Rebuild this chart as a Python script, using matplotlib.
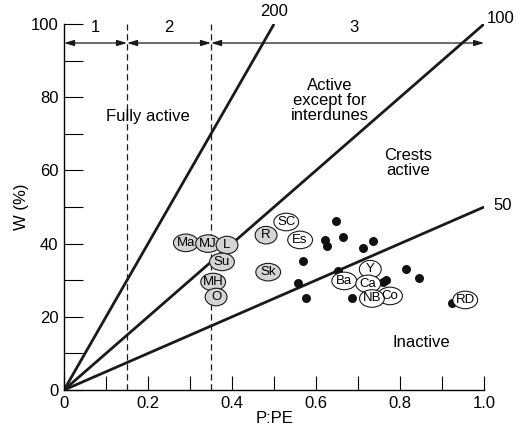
import matplotlib
matplotlib.use("Agg")
import matplotlib.pyplot as plt
from matplotlib.patches import Ellipse

plt.rcParams["font.family"] = ["Liberation Sans", "DejaVu Sans"]

# Reference lines W = k * P:PE
SLOPES = [200, 100, 50]

# Zone boundaries (P:PE)
BOUNDS = [0.0, 0.15, 0.35, 1.0]
ZONE_LABELS = ["1", "2", "3"]

# Labelled dune fields
SITE_NAMES = ["Ma", "MJ", "L", "Su", "MH", "O", "R", "Sk",
              "SC", "Es", "Y", "Ba", "Ca", "Co", "NB", "RD"]
SITE_X = [0.290, 0.343, 0.388, 0.376, 0.355, 0.362, 0.481, 0.486,
          0.529, 0.562, 0.729, 0.667, 0.724, 0.776, 0.733, 0.955]
SITE_W = [40.2, 40.0, 39.6, 35.0, 29.5, 25.4, 42.3, 32.2,
          45.9, 41.0, 33.0, 29.8, 29.0, 25.7, 25.0, 24.6]
SITE_ACTIVE = [True, True, True, True, True, True, True, True,
               False, False, False, False, False, False, False, False]

# Unlabelled sites
DOT_X = [0.648, 0.621, 0.626, 0.664, 0.712, 0.736, 0.569, 0.557,
         0.576, 0.652, 0.814, 0.845, 0.686, 0.760, 0.767, 0.924]
DOT_W = [46.2, 41.0, 39.3, 41.8, 38.8, 40.7, 35.2, 29.2,
         25.1, 32.5, 33.1, 30.6, 25.1, 29.5, 30.1, 23.8]

fig = plt.figure(figsize=(5.18, 4.36), dpi=100)
ax = fig.add_axes([0.1236, 0.1055, 0.811, 0.8395])
ax.set_xlim(0, 1.0)
ax.set_ylim(0, 100)

for s in ["top", "right"]:
    ax.spines[s].set_visible(False)
for s in ["left", "bottom"]:
    ax.spines[s].set_linewidth(1.0)

ax.set_xticks([0, 0.2, 0.4, 0.6, 0.8, 1.0])
ax.set_xticklabels(["0", "0.2", "0.4", "0.6", "0.8", "1.0"])
ax.set_xticks([0.1, 0.3, 0.5, 0.7, 0.9], minor=True)
ax.set_yticks([0, 20, 40, 60, 80, 100])
ax.set_yticks([10, 30, 50, 70, 90], minor=True)
ax.tick_params(axis="x", which="both", direction="in", length=10, width=0.8,
               labelsize=12, pad=4)
ax.tick_params(axis="y", which="both", direction="in", length=14, width=0.8,
               labelsize=12, pad=4)
ax.set_xlabel("P:PE", fontsize=12, labelpad=0)
ax.set_ylabel("W (%)", fontsize=12, labelpad=1)

# sloped lines
for k in SLOPES:
    xe = min(1.0, 100.0 / k)
    ax.plot([0, xe], [0, k * xe], color="#1a1a1a", lw=2.0, zorder=2,
            solid_capstyle="butt")
ax.text(0.5, 103.5, "200", fontsize=12, ha="center", va="center", clip_on=False)
ax.text(1.04, 101.5, "100", fontsize=12, ha="center", va="center", clip_on=False)
ax.text(1.045, 50.5, "50", fontsize=12, ha="center", va="center", clip_on=False)

# zone boundaries and arrows
for b in BOUNDS[1:3]:
    ax.plot([b, b], [0, 100], color="#1a1a1a", lw=0.9, ls=(0, (5, 3)), zorder=1)
for i, lab in enumerate(ZONE_LABELS):
    ax.annotate("", xy=(BOUNDS[i], 94.8), xytext=(BOUNDS[i + 1], 94.8),
                arrowprops=dict(arrowstyle="<|-|>,head_length=0.6,head_width=0.18",
                                color="#1a1a1a", lw=0.9, shrinkA=0, shrinkB=0))
    xm = (BOUNDS[i] + BOUNDS[i + 1]) / 2 if i < 2 else 0.69
    ax.text(xm, 99, lab, fontsize=12, ha="center", va="center")

# region texts
ax.text(0.2, 74.6, "Fully active", fontsize=12, ha="center", va="center")
ax.text(0.633, 79, "Active\nexcept for\ninterdunes", fontsize=12,
        ha="center", va="center", linespacing=1.0)
ax.text(0.82, 62, "Crests\nactive", fontsize=12, ha="center", va="center",
        linespacing=1.0)
ax.text(0.85, 13, "Inactive", fontsize=12, ha="center", va="center")

# unlabelled dots
ax.scatter(DOT_X, DOT_W, s=42, color="#111111", zorder=3, linewidths=0)

# labelled sites
for name, x, w, act in zip(SITE_NAMES, SITE_X, SITE_W, SITE_ACTIVE):
    width = 0.052 if len(name) == 1 else 0.059
    e = Ellipse((x, w), width, 4.8, facecolor="#d4d4d4" if act else "white",
                edgecolor="#1a1a1a", lw=0.8, zorder=4)
    ax.add_patch(e)
    ax.text(x, w, name, fontsize=9.5, ha="center", va="center", zorder=5)

fig.savefig("out.png", dpi=100)
